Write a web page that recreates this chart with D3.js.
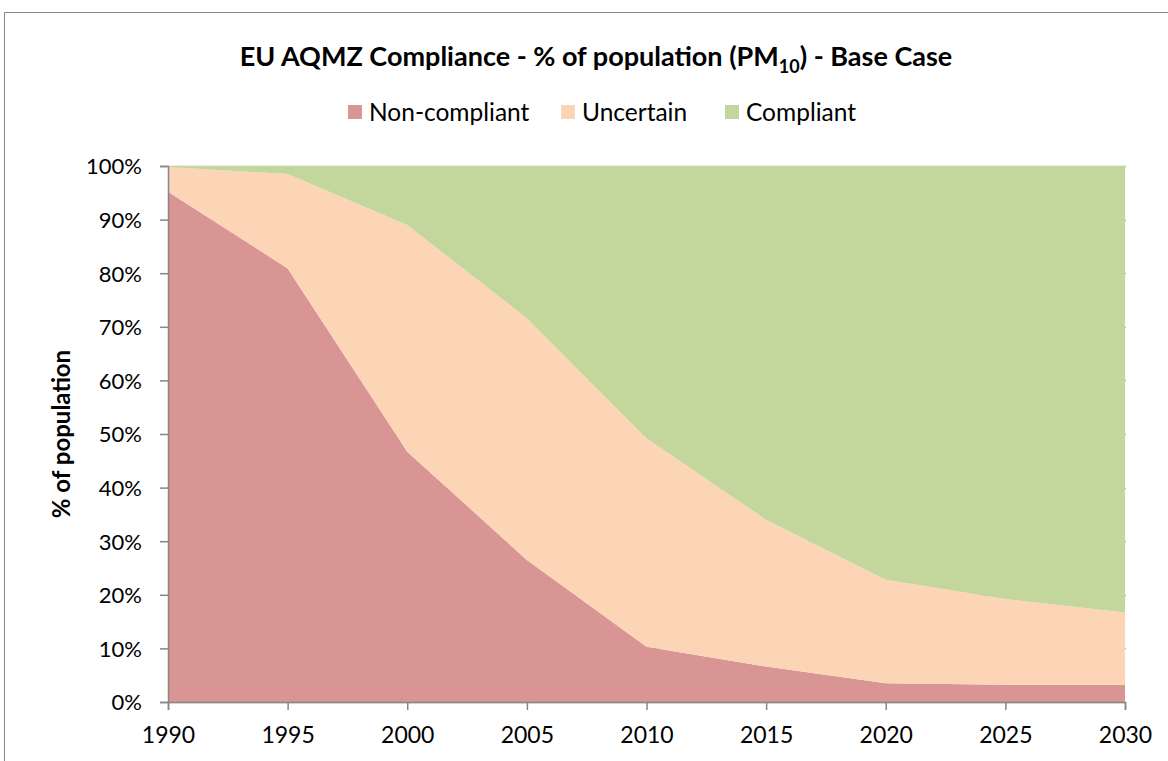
<!DOCTYPE html>
<html>
<head>
<meta charset="utf-8">
<script src="https://cdn.jsdelivr.net/npm/d3@7"></script>
<style>
  body { margin: 0; background: #fff; }
  text { font-family: Lato, "Open Sans", sans-serif; fill: #000; }
</style>
</head>
<body>
<div id="chart"></div>
<script>
// data (% of population)
var years = [1990, 1995, 2000, 2005, 2010, 2015, 2020, 2025, 2030]
var nonCompliant = [95.2, 80.9, 46.7, 26.5, 10.3, 6.6, 3.5, 3.2, 3.2]
var uncertain = [4.6, 17.6, 42.3, 45.1, 38.9, 27.4, 19.3, 16.0, 13.5]
var compliant = [0.2, 1.5, 11.0, 28.4, 50.8, 66.0, 77.2, 80.8, 83.3]
var seriesNames = ["Non-compliant", "Uncertain", "Compliant"]
var seriesColors = ["#d99594", "#fbd5b5", "#c3d69b"]
var yTicks = [0, 10, 20, 30, 40, 50, 60, 70, 80, 90, 100]

var width = 1168
var height = 761
var margin = {top: 166, right: 43, bottom: 59, left: 168}

var svg = d3.select("#chart")
  .append("svg")
  .attr("width", width)
  .attr("height", height)

// outer chart border (runs off the right/bottom of the picture)
svg.append("rect")
  .attr("x", 4.5).attr("y", 12.5)
  .attr("width", width + 10).attr("height", height + 10)
  .attr("fill", "none")
  .attr("stroke", "#868686")
  .attr("stroke-width", 1)

var x = d3.scaleLinear()
  .domain([1990, 2030])
  .range([margin.left, width - margin.right])

var y = d3.scaleLinear()
  .domain([0, 100])
  .range([height - margin.bottom, margin.top])

// gridlines behind the areas
svg.append("g")
  .selectAll("line")
  .data(yTicks)
  .enter()
  .append("line")
  .attr("x1", x(1990)).attr("x2", x(2030) + 1)
  .attr("y1", function(d){ return Math.round(y(d)) + 0.5 })
  .attr("y2", function(d){ return Math.round(y(d)) + 0.5 })
  .attr("stroke", "#b3b3b3")
  .attr("stroke-width", 1.5)

var table = years.map(function(yr, i){
  return {year: yr, "Non-compliant": nonCompliant[i], "Uncertain": uncertain[i], "Compliant": compliant[i]}
})

var stacked = d3.stack().keys(seriesNames)(table)

var area = d3.area()
  .x(function(d){ return x(d.data.year) })
  .y0(function(d){ return y(d[0]) })
  .y1(function(d){ return y(Math.min(d[1], 100)) })

svg.append("g")
  .selectAll("path")
  .data(stacked)
  .enter()
  .append("path")
  .attr("d", area)
  .attr("fill", function(d, i){ return seriesColors[i] })

// y axis
var yAxis = svg.append("g")
  .attr("transform", "translate(" + x(1990) + ",0)")
  .call(d3.axisLeft(y).tickValues(yTicks).tickSize(8).tickPadding(18)
    .tickFormat(function(d){ return d + "%" }))
yAxis.select(".domain").attr("stroke", "#868686").attr("stroke-width", 1.5)
yAxis.selectAll(".tick line").attr("stroke", "#868686").attr("stroke-width", 1.5)
yAxis.selectAll(".tick text").style("font-size", "22px").attr("dy", "0.36em")

// x axis
var xAxis = svg.append("g")
  .attr("transform", "translate(0," + y(0) + ")")
  .call(d3.axisBottom(x).tickValues(years).tickSize(8).tickPadding(17)
    .tickFormat(d3.format("d")))
xAxis.select(".domain").attr("stroke", "#868686").attr("stroke-width", 1.5)
xAxis.selectAll(".tick line").attr("stroke", "#868686").attr("stroke-width", 1.5)
xAxis.selectAll(".tick text").style("font-size", "23px")

// y axis title
svg.append("text")
  .attr("transform", "translate(70," + (margin.top + (height - margin.bottom)) / 2 + ") rotate(-90)")
  .attr("text-anchor", "middle")
  .style("font-size", "24px")
  .style("font-weight", "bold")
  .text("% of population")

// chart title with subscript
var title = svg.append("text")
  .attr("x", 596).attr("y", 66)
  .attr("text-anchor", "middle")
  .style("font-size", "27px")
  .style("font-weight", "bold")
title.append("tspan").text("EU AQMZ Compliance - % of population (PM")
title.append("tspan").attr("dy", 7).style("font-size", "18px").text("10")
title.append("tspan").attr("dy", -7).text(") - Base Case")

// legend
var legendX = [348, 561, 725]
var legend = svg.append("g")
  .selectAll("g")
  .data(seriesNames)
  .enter()
  .append("g")
  .attr("transform", function(d, i){ return "translate(" + legendX[i] + ",112)" })
legend.append("rect")
  .attr("x", 0).attr("y", -7)
  .attr("width", 14).attr("height", 14)
  .attr("fill", function(d, i){ return seriesColors[i] })
legend.append("text")
  .attr("x", 21).attr("y", 0)
  .attr("dy", "0.35em")
  .style("font-size", "24.5px")
  .text(function(d){ return d })
</script>
</body>
</html>
